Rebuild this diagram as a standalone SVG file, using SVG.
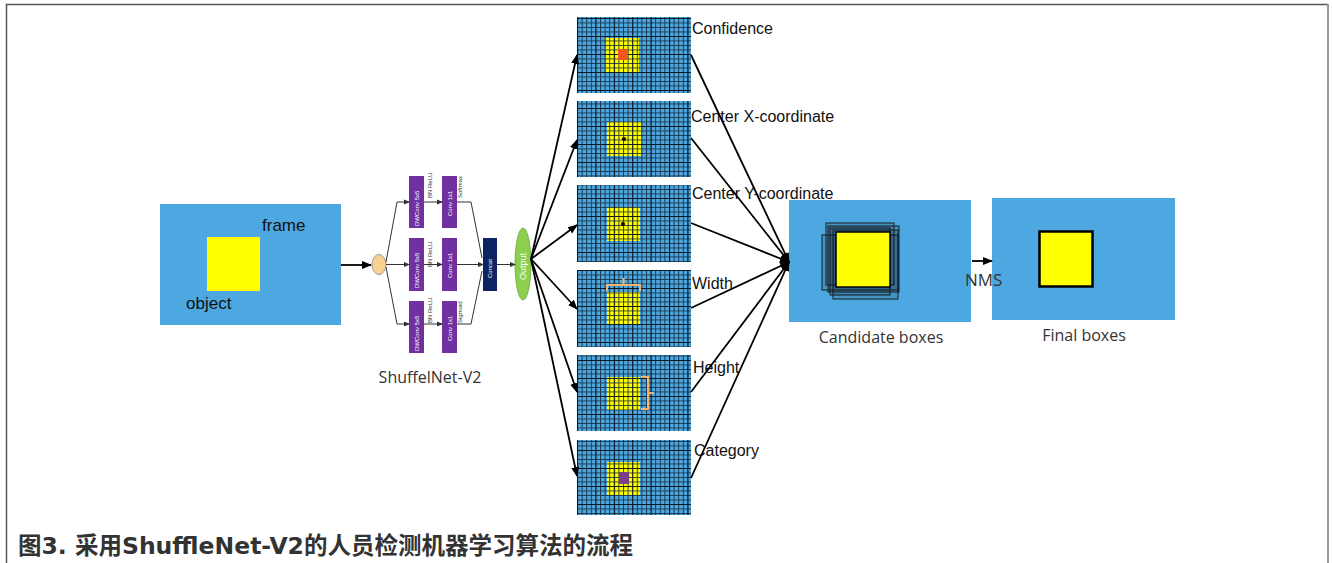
<svg xmlns="http://www.w3.org/2000/svg" width="1332" height="563" viewBox="0 0 1332 563">
<style>
.blue{fill:#4DA8E1}
.yel{fill:#FFFF00}
.lbl{font-family:"Liberation Sans",Arial,sans-serif;font-size:16px;fill:#111}
.lbl2{font-family:"Open Sans","Noto Sans",sans-serif;font-size:16px;fill:#333}
.con{stroke:#000;stroke-width:1.8;fill:none}
.thin{stroke:#333;stroke-width:1;fill:none}
.purple{fill:#7030A0}
.tiny{font-family:"Liberation Sans",Arial,sans-serif;font-size:6px;fill:#333}
.tinyw{font-family:"Liberation Sans",Arial,sans-serif;font-size:6px;fill:#fff}
.brk{stroke:#F4B26B;stroke-width:2;fill:none}
</style>
<defs>
<marker id="ah" markerUnits="userSpaceOnUse" markerWidth="10" markerHeight="10" refX="9" refY="5" orient="auto"><path d="M0,1 L10,5 L0,9 Z" fill="#000"/></marker>
<marker id="as" markerUnits="userSpaceOnUse" markerWidth="6" markerHeight="6" refX="5" refY="3" orient="auto"><path d="M0,0.5 L6,3 L0,5.5 Z" fill="#333"/></marker>
<pattern id="grid" x="577" y="0" width="4.6" height="4.5" patternUnits="userSpaceOnUse"><path d="M0,0.5H4.6M0.5,0V4.5" stroke="#0f2438" stroke-width="1" opacity="0.85"/></pattern>
<pattern id="grid2" x="577" y="0" width="18.4" height="18" patternUnits="userSpaceOnUse"><path d="M0,0.5H18.4M0.5,0V18" stroke="#000" stroke-width="1.2" opacity="0.6"/></pattern>
</defs>
<g id="frame-border">
<path d="M6.5,563 V4.5 H1328" fill="none" stroke="#555" stroke-width="1.5"/>
<path d="M1328,4 V563" fill="none" stroke="#999" stroke-width="2"/>
</g>
<g id="input-frame">
<rect x="160" y="204" width="181" height="121" class="blue"/>
<rect x="207" y="237" width="53" height="54" class="yel"/>
<text x="262" y="231" class="lbl" style="font-size:17px">frame</text>
<text x="186" y="309" class="lbl" style="font-size:17px">object</text>
</g>
<g id="shufflenet">
<ellipse cx="379" cy="264.5" rx="7" ry="10" fill="#F9D08F" stroke="#999" stroke-width="1"/>
<rect x="409" y="176" width="15" height="52" class="purple"/>
<rect x="409" y="238" width="15" height="53" class="purple"/>
<rect x="409" y="301" width="15" height="52" class="purple"/>
<rect x="442" y="176" width="15" height="52" class="purple"/>
<rect x="442" y="238" width="15" height="53" class="purple"/>
<rect x="442" y="301" width="15" height="52" class="purple"/>
<text transform="translate(419,226) rotate(-90)" class="tinyw">DWConv 5x5</text>
<text transform="translate(419,288) rotate(-90)" class="tinyw">DWConv 5x5</text>
<text transform="translate(419,351) rotate(-90)" class="tinyw">DWConv 5x5</text>
<text transform="translate(452,216) rotate(-90)" class="tinyw">Conv 1x1</text>
<text transform="translate(452,278) rotate(-90)" class="tinyw">Conv 1x1</text>
<text transform="translate(452,341) rotate(-90)" class="tinyw">Conv 1x1</text>
<text transform="translate(432,198) rotate(-90)" class="tiny">BN ReLU</text>
<text transform="translate(432,267) rotate(-90)" class="tiny">BN ReLU</text>
<text transform="translate(432,323) rotate(-90)" class="tiny">BN ReLU</text>
<text transform="translate(462,198) rotate(-90)" class="tiny">Softmax</text>
<text transform="translate(462,323) rotate(-90)" class="tiny">Sigmoid</text>
<rect x="483" y="238" width="14" height="53" fill="#0C2461"/>
<text transform="translate(492,278) rotate(-90)" class="tinyw">Concat</text>
<ellipse cx="523" cy="264" rx="8" ry="36" fill="#8CCF4D" stroke="#6aa83a" stroke-width="0.8"/>
<text transform="translate(526,280) rotate(-90)" style="font-family:'Liberation Sans',Arial,sans-serif;font-size:9px;fill:#fff">Output</text>
<text x="430" y="383" text-anchor="middle" class="lbl2">ShuffelNet-V2</text>
</g>
<g id="grid-confidence">
<rect x="577" y="17" width="114" height="76" class="blue"/>
<rect x="606" y="38" width="33" height="35" class="yel"/>
<rect x="577" y="17" width="114" height="76" fill="url(#grid)"/>
<rect x="577" y="17" width="114" height="76" fill="url(#grid2)"/>
<rect x="618" y="49" width="10" height="11" fill="#F0561E"/>
<text x="692" y="34" class="lbl">Confidence</text>
</g>
<g id="grid-centerx">
<rect x="577" y="101" width="114" height="76" class="blue"/>
<rect x="607" y="122" width="34" height="34" class="yel"/>
<rect x="577" y="101" width="114" height="76" fill="url(#grid)"/>
<rect x="577" y="101" width="114" height="76" fill="url(#grid2)"/>
<circle cx="624" cy="139" r="2" fill="#000"/>
<text x="691" y="122" class="lbl">Center X-coordinate</text>
</g>
<g id="grid-centery">
<rect x="577" y="185" width="114" height="77" class="blue"/>
<rect x="607" y="207" width="33" height="34" class="yel"/>
<rect x="577" y="185" width="114" height="77" fill="url(#grid)"/>
<rect x="577" y="185" width="114" height="77" fill="url(#grid2)"/>
<circle cx="623" cy="224" r="2" fill="#000"/>
<text x="692" y="199" class="lbl">Center Y-coordinate</text>
</g>
<g id="grid-width">
<rect x="577" y="270" width="114" height="77" class="blue"/>
<rect x="607" y="292" width="33" height="33" class="yel"/>
<rect x="577" y="270" width="114" height="77" fill="url(#grid)"/>
<rect x="577" y="270" width="114" height="77" fill="url(#grid2)"/>
<path d="M607,291 V285 H640 V291 M623.5,285 V278" class="brk"/>
<text x="692" y="289" class="lbl">Width</text>
</g>
<g id="grid-height">
<rect x="577" y="355" width="114" height="76" class="blue"/>
<rect x="607" y="377" width="33" height="33" class="yel"/>
<rect x="577" y="355" width="114" height="76" fill="url(#grid)"/>
<rect x="577" y="355" width="114" height="76" fill="url(#grid2)"/>
<path d="M641,377 H648 V409 H641 M648,393 H654" class="brk"/>
<text x="693" y="373" class="lbl">Height</text>
</g>
<g id="grid-category">
<rect x="577" y="440" width="114" height="75" class="blue"/>
<rect x="607" y="462" width="33" height="33" class="yel"/>
<rect x="577" y="440" width="114" height="75" fill="url(#grid)"/>
<rect x="577" y="440" width="114" height="75" fill="url(#grid2)"/>
<rect x="619" y="472" width="10" height="12" fill="#7B3F8A"/>
<text x="694" y="456" class="lbl">Category</text>
</g>
<g id="candidate">
<rect x="789" y="200" width="182" height="122" class="blue"/>
<g stroke="#1a1a1a" stroke-width="1" fill="#000" fill-opacity="0.12">
<rect x="822" y="235" width="76" height="55"/>
<rect x="826" y="223" width="68" height="62"/>
<rect x="830" y="228" width="60" height="67"/>
<rect x="833" y="230" width="65" height="69"/>
<rect x="828" y="226" width="71" height="66"/>
</g>
<rect x="836" y="232" width="54" height="55" class="yel" stroke="#000" stroke-width="1.5"/>
<text x="881" y="343" text-anchor="middle" class="lbl2">Candidate boxes</text>
</g>
<g id="final">
<rect x="992" y="198" width="183" height="122" class="blue"/>
<rect x="1039.5" y="231.5" width="53" height="55" class="yel" stroke="#000" stroke-width="2.5"/>
<text x="1084" y="341" text-anchor="middle" class="lbl2">Final boxes</text>
</g>
<g id="connectors">
<line x1="341" y1="265" x2="371" y2="265" class="con" marker-end="url(#ah)"/>
<g class="thin">
<path d="M386,262 L397,202 H409" marker-end="url(#as)"/>
<path d="M386,264.5 H409" marker-end="url(#as)"/>
<path d="M386,267 L397,324 H409" marker-end="url(#as)"/>
<path d="M424,202 H442" marker-end="url(#as)"/>
<path d="M424,264.5 H442" marker-end="url(#as)"/>
<path d="M424,324 H442" marker-end="url(#as)"/>
<path d="M457,202 H471 L482,258"/>
<path d="M457,264.5 H483" marker-end="url(#as)"/>
<path d="M457,324 H471 L482,271"/>
<path d="M497,264.5 H515" marker-end="url(#as)"/>
</g>
<line x1="531" y1="259" x2="577" y2="55" class="con" marker-end="url(#ah)"/>
<line x1="531" y1="259" x2="577" y2="140" class="con" marker-end="url(#ah)"/>
<line x1="531" y1="259" x2="577" y2="225" class="con" marker-end="url(#ah)"/>
<line x1="531" y1="259" x2="577" y2="309" class="con" marker-end="url(#ah)"/>
<line x1="531" y1="259" x2="577" y2="392" class="con" marker-end="url(#ah)"/>
<line x1="531" y1="259" x2="577" y2="476" class="con" marker-end="url(#ah)"/>
<line x1="691" y1="55" x2="789" y2="262" class="con" marker-end="url(#ah)"/>
<line x1="691" y1="138" x2="789" y2="262" class="con" marker-end="url(#ah)"/>
<line x1="691" y1="223" x2="789" y2="262" class="con" marker-end="url(#ah)"/>
<line x1="691" y1="308" x2="789" y2="262" class="con" marker-end="url(#ah)"/>
<line x1="691" y1="392" x2="789" y2="262" class="con" marker-end="url(#ah)"/>
<line x1="691" y1="478" x2="789" y2="262" class="con" marker-end="url(#ah)"/>
<line x1="972" y1="261" x2="992" y2="261" class="con" marker-end="url(#ah)"/>
<text x="965" y="286" class="lbl2" style="font-size:17px">NMS</text>
</g>
<text x="18" y="554" style="font-family:'Noto Sans CJK SC',sans-serif;font-weight:bold;font-size:23.5px;fill:#333">图<tspan style="font-family:'DejaVu Sans',sans-serif">3. </tspan>采用<tspan style="font-family:'DejaVu Sans',sans-serif">ShuffleNet-V2</tspan>的人员检测机器学习算法的流程</text>
</svg>
